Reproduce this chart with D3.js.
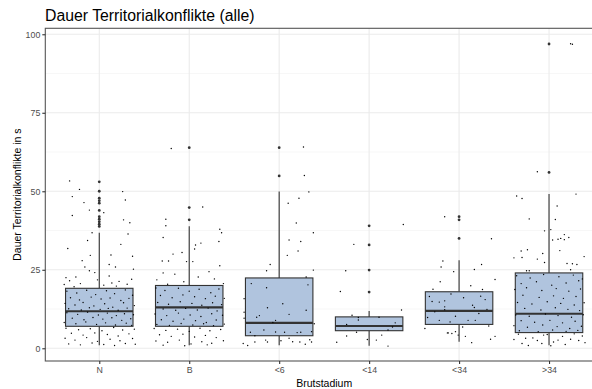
<!DOCTYPE html>
<html>
<head>
<meta charset="utf-8">
<script src="https://cdn.jsdelivr.net/npm/d3@7"></script>
<style>
  body { margin: 0; background: #fff; }
  svg { display: block; font-family: "Liberation Sans", Arial, sans-serif; }
</style>
</head>
<body>
<svg id="chart" width="592" height="389"></svg>
<script>
// categories and box statistics (seconds)
var categories = ["N", "B", "<6", "<14", "<34", ">34"];
var q1 = [7.0, 7.0, 4.0, 5.6, 7.6, 5.0];
var median = [11.8, 13.0, 8.1, 7.1, 11.9, 11.0];
var q3 = [19.1, 20.0, 22.4, 10.0, 18.0, 24.0];
var whiskerLo = [1.0, 1.0, 1.0, 0.8, 2.1, 1.0];
var whiskerHi = [36.8, 38.9, 49.9, 11.9, 28.0, 49.1];
var outliers = [
  [53, 50, 47.8, 47, 46.2, 43.9, 41.9, 41.1, 40.3, 39.5, 38.8],
  [63.9, 44.8, 40.9],
  [63.9, 54.9],
  [39, 32.9, 24.9, 17.9],
  [41.9, 40.9, 35],
  [96.9, 56]
];
var yTicks = [0, 25, 50, 75, 100];
var yMinor = [12.5, 37.5, 62.5, 87.5];

// jittered observations: [offset in category widths, value]
var ptsN = [[-.33,53.3],[-.30,48.3],[-.17,46.4],[-.11,44],[-.30,42.3],[.26,49.9],[.29,47.2],[.27,40.9],[.34,40],[.32,36.4],
  [-.08,36.8],[-.13,34.3],[-.10,29.6],[.37,29.3],[.13,29.7],[.11,26.7],[.18,25.9],[-.16,25.9],[-.11,24.7],[.38,25.2],
  [-.37,22.5],[-.26,22.7],[-.05,24.1],[.11,23],[.14,20.8],[-.39,20.3],[-.33,21.5],[-.21,20.6],[-.02,21.8],[.05,20.1],
  [.22,21.3],[.31,20.4],[.36,22],[-.28,19.6],[.19,19.8],[-.36,18.2],[-.25,17.6],[-.14,18.5],[-.04,17.1],[.08,18.3],
  [.17,17.4],[.29,18.6],[.37,16.9],[-.32,16.1],[-.22,15.4],[-.09,16.3],[.02,15.7],[.12,16.0],[.24,15.2],[.33,15.9],
  [-.38,14.3],[-.27,13.8],[-.18,14.6],[-.06,13.5],[.06,14.2],[.15,13.1],[.27,14.5],[.39,13.6],[-.34,12.6],[-.20,12.2],
  [-.11,12.9],[.01,12.4],[.10,12.7],[.21,12.1],[.31,12.8],[-.36,11.3],[-.24,10.8],[-.13,11.5],[-.01,10.6],[.09,11.2],
  [.19,10.4],[.28,11],[.38,10.7],[-.30,9.6],[-.17,9.1],[-.07,9.8],[.04,9.3],[.14,9.7],[.25,8.9],[.35,9.4],
  [-.39,8.2],[-.26,7.8],[-.15,8.4],[-.03,7.6],[.07,8.1],[.18,7.4],[.30,8],[.36,7.3],[-.37,6.4],[-.23,5.9],
  [-.10,6.2],[.03,5.6],[.16,6.6],[.26,5.8],[.39,6.1],[-.31,4.8],[-.18,4.2],[-.05,4.9],[.09,4.4],[.21,3.9],
  [.33,4.6],[-.38,3.2],[-.27,2.6],[-.14,3.4],[-.02,2.2],[.12,2.9],[.23,2.4],[.37,3.1],[-.34,1.4],[-.21,1.1],
  [-.08,1.7],[.05,1.2],[.17,0.9],[.29,1.5],[.40,1.3],[-.22,50.6],[.05,43.2],[-.35,31.8],[.24,33.1],[-.19,27.9]];
var ptsB = [[-.20,63.6],[.15,45],[-.26,41.1],[-.26,39],[-.29,35.3],[.34,37.9],[.36,36.8],[.07,32.9],[.06,31.6],[.13,33.5],
  [.33,34],[-.18,30],[-.08,30.5],[-.30,27.8],[-.23,27.8],[-.03,27.6],[.04,27.6],[.34,26.3],[-.29,24],[-.16,23.6],
  [.22,24.4],[.10,22.7],[-.36,21.8],[.28,22.1],[-.06,21.2],[.38,20.6],[-.24,20.4],[-.37,19.2],[-.27,18.4],[-.12,19.1],
  [.00,18.2],[.11,18.8],[.24,17.7],[.33,18.9],[-.32,16.8],[-.19,16.1],[-.07,17],[.06,16.4],[.18,15.8],[.29,16.6],
  [.39,15.9],[-.35,14.6],[-.23,14],[-.10,14.8],[.03,14.3],[.14,13.7],[.26,14.5],[.36,13.9],[-.29,12.5],[-.15,12.1],
  [-.04,12.7],[.09,12.2],[.21,12.8],[.31,11.9],[-.38,10.9],[-.25,10.4],[-.12,11.2],[.01,10.6],[.13,10.1],[.25,11],
  [.37,10.5],[-.31,9.1],[-.18,8.6],[-.06,9.3],[.07,8.8],[.19,8.2],[.30,9],[-.36,7.6],[-.22,7.3],[-.09,7.9],
  [.04,7.4],[.16,7.8],[.27,7.2],[.39,7.7],[-.39,6.3],[-.26,5.7],[-.13,6.1],[.00,5.4],[.12,6.4],[.23,5.6],
  [.35,6],[-.33,4.3],[-.20,3.8],[-.07,4.5],[.06,3.6],[.18,4.1],[.30,3.4],[-.37,2.3],[-.24,1.9],[-.11,2.6],
  [.02,1.4],[.14,2.1],[.25,1.6],[.38,2.4],[-.29,1],[-.05,0.8],[.20,1.1]];
var pts6 = [[.27,64.1],[.28,55],[.33,49.8],[.22,47.8],[.10,46.2],[.19,39.9],[.38,36.8],[.11,34.5],[.24,34],[.21,31],
  [.09,29.6],[-.10,26.7],[-.14,24.7],[.38,24.9],[.30,22.7],[-.31,20.6],[.32,20.2],[-.14,19.3],[-.39,15.8],[.04,14.2],
  [-.13,12.9],[.30,12.1],[.11,10.8],[-.22,10.4],[-.25,9.9],[-.04,8.9],[-.07,8.2],[.39,7.8],[-.17,5.8],[-.32,5.1],
  [-.04,5.2],[.06,5.1],[.20,5],[.24,5.1],[.36,5.3],[-.27,4],[-.15,2.6],[.11,3.2],[.34,2.7],[-.40,1.5],
  [-.35,0.9],[-.27,2],[-.13,2],[.02,2.4],[.15,2.1],[.23,2],[.29,1.3],[.36,2],[-.39,11.5],[-.39,9.6]];
var pts14 = [[.38,39.4],[-.17,33.1],[-.26,24.7],[-.32,18.1],[.36,12.2],[-.19,10.5],[-.12,9.8],[.11,9.9],[-.25,7.6],[-.12,9.0],
  [.29,8.1],[.26,6.8],[-.14,5.1],[.21,5.8],[-.25,3.9],[.14,4.2],[-.36,1.9],[-.02,2.8],[.08,2.6],[.21,0.7]];
var pts34 = [[-.16,41.9],[.36,34.9],[-.18,27.8],[-.20,25.9],[-.06,24.4],[.25,26.7],[.17,25.1],[.40,21.9],[.13,19.9],[.26,18.7],
  [.24,16.6],[.29,15.5],[.15,13.7],[.17,13],[.22,11.1],[.18,8.9],[-.04,10.2],[.10,8.9],[-.21,21.2],[-.29,18.8],
  [-.30,14.9],[-.22,14.7],[-.16,15.1],[-.35,9.8],[-.38,6.3],[-.22,8.9],[-.13,4.9],[-.12,4.9],[-.08,4.7],[-.04,5.3],
  [-.01,4.2],[.07,3.8],[.14,1.8],[.35,2.9],[.40,3.8],[.04,6.8],[-.16,13.2],[-.16,12.3],[-.10,8.4],[.31,12.4],
  [-.27,11.6],[.05,16.1],[-.09,17.3],[.33,7.1],[-.33,16.5]];
var ptsG34 = [[.24,97],[.26,96.8],[-.13,56.2],[-.36,48.5],[-.30,47.7],[.30,49.1],[.09,45.3],[-.22,41.2],[.07,41],[.02,37.8],
  [-.05,37.4],[.04,34.5],[.10,34.7],[.13,35],[.17,34.6],[.22,35.3],[.17,36.2],[.12,31.1],[-.24,31.4],[-.31,31],
  [-.39,28.8],[-.30,28.9],[-.13,28.4],[-.07,30.2],[-.05,27.3],[.20,27],[.26,26.9],[.31,26.7],[.39,29.2],[-.25,24.7],
  [-.22,24.7],[.24,25],[-.36,23.1],[-.21,22.4],[-.06,23.5],[.11,22.8],[.27,23.3],[.37,22.1],[-.31,20.6],[-.14,21.2],
  [.03,20.1],[.19,20.8],[.33,21.5],[-.38,18.7],[-.25,19.3],[-.08,18.4],[.08,19],[.22,18.2],[.35,18.9],[-.29,16.9],
  [-.11,16.2],[.05,16.7],[.16,15.9],[.30,16.5],[-.35,14.6],[-.19,14.1],[-.02,14.8],[.13,14.3],[.28,13.8],[.39,14.5],
  [-.27,12.7],[-.09,12.2],[.07,12.9],[.21,12.4],[.34,12],[-.37,10.6],[-.22,10.2],[-.04,10.9],[.10,10.4],[.25,9.9],
  [.38,10.7],[-.31,8.8],[-.16,8.3],[.01,8.9],[.15,8.1],[.29,8.6],[-.39,7.2],[-.24,6.7],[-.07,7.4],[.09,6.9],
  [.23,6.3],[.36,7],[-.33,5.6],[-.12,5.3],[.04,5.8],[.19,5.4],[.32,5.7],[-.39,2.8],[-.34,4.5],[-.30,1.5],
  [-.26,3.2],[-.23,0.9],[-.18,3.3],[-.13,2.5],[-.08,1.5],[-.06,4.2],[-.02,4.4],[.02,0.8],[.05,2],[.10,2.6],
  [.15,3.8],[.18,1.2],[.24,2.9],[.28,4.6],[.33,2.5],[.37,3.9],[.40,1.8]];
var points = [ptsN, ptsB, pts6, pts14, pts34, ptsG34];

var panel = {left: 45.3, right: 603, top: 28.3, bottom: 361};

var svg = d3.select("#chart");

var x = d3.scalePoint()
  .domain(categories)
  .range([panel.left, panel.right])
  .padding(0.6);
var step = x.step();

var y = d3.scaleLinear()
  .domain([-4.05, 101.9])
  .range([panel.bottom, panel.top]);

// grid
var grid = svg.append("g");
grid.selectAll("line.minor").data(yMinor).enter().append("line")
  .attr("x1", panel.left).attr("x2", panel.right)
  .attr("y1", d => y(d)).attr("y2", d => y(d))
  .attr("stroke", "#f0f0f0").attr("stroke-width", 0.55);
grid.selectAll("line.major").data(yTicks).enter().append("line")
  .attr("x1", panel.left).attr("x2", panel.right)
  .attr("y1", d => y(d)).attr("y2", d => y(d))
  .attr("stroke", "#ebebeb").attr("stroke-width", 1.1);
grid.selectAll("line.vert").data(categories).enter().append("line")
  .attr("x1", d => x(d)).attr("x2", d => x(d))
  .attr("y1", panel.top).attr("y2", panel.bottom)
  .attr("stroke", "#ebebeb").attr("stroke-width", 1.1);

// boxes
var stats = categories.map(function(c, i){
  return {cat: c, q1: q1[i], med: median[i], q3: q3[i], lo: whiskerLo[i], hi: whiskerHi[i], out: outliers[i]};
});
var halfW = step * 0.375;

var boxes = svg.selectAll("g.box").data(stats).enter().append("g").classed("box", true);

boxes.append("line")
  .attr("x1", d => x(d.cat)).attr("x2", d => x(d.cat))
  .attr("y1", d => y(d.q3)).attr("y2", d => y(d.hi))
  .attr("stroke", "#333").attr("stroke-width", 1.1);
boxes.append("line")
  .attr("x1", d => x(d.cat)).attr("x2", d => x(d.cat))
  .attr("y1", d => y(d.q1)).attr("y2", d => y(d.lo))
  .attr("stroke", "#333").attr("stroke-width", 1.1);
boxes.append("rect")
  .attr("x", d => x(d.cat) - halfW)
  .attr("y", d => y(d.q3))
  .attr("width", halfW * 2)
  .attr("height", d => y(d.q1) - y(d.q3))
  .attr("fill", "#b0c4de")
  .attr("stroke", "#333").attr("stroke-width", 1.1);
boxes.append("line")
  .attr("x1", d => x(d.cat) - halfW).attr("x2", d => x(d.cat) + halfW)
  .attr("y1", d => y(d.med)).attr("y2", d => y(d.med))
  .attr("stroke", "#333").attr("stroke-width", 2.2);
boxes.selectAll("circle.out").data(d => d.out.map(v => ({cat: d.cat, v: v}))).enter()
  .append("circle")
  .attr("cx", d => x(d.cat)).attr("cy", d => y(d.v))
  .attr("r", 1.4).attr("fill", "#333");

// jittered points
var jit = svg.append("g");
categories.forEach(function(c, i){
  jit.selectAll(null).data(points[i]).enter().append("circle")
    .attr("cx", d => x(c) + d[0] * step)
    .attr("cy", d => y(d[1]))
    .attr("r", 0.7)
    .attr("fill", "#000");
});

// panel border
svg.append("rect")
  .attr("x", panel.left).attr("y", panel.top)
  .attr("width", panel.right - panel.left).attr("height", panel.bottom - panel.top)
  .attr("fill", "none").attr("stroke", "#555").attr("stroke-width", 1.1);

// axes
var yAxis = svg.append("g")
  .attr("transform", "translate(" + panel.left + ",0)")
  .call(d3.axisLeft(y).tickValues(yTicks).tickSize(3).tickPadding(2));
var xAxis = svg.append("g")
  .attr("transform", "translate(0," + panel.bottom + ")")
  .call(d3.axisBottom(x).tickSize(3).tickPadding(3));
[yAxis, xAxis].forEach(function(a){
  a.select(".domain").remove();
  a.selectAll(".tick line").attr("stroke", "#333").attr("stroke-width", 1.1);
  a.selectAll(".tick text").attr("fill", "#4d4d4d").style("font-size", "8.8px")
    .style("font-family", "'Liberation Sans', Arial, sans-serif");
});

// titles
svg.append("text")
  .attr("x", 45).attr("y", 20.7)
  .style("font-size", "15.8px").attr("fill", "#000")
  .text("Dauer Territorialkonflikte (alle)");
svg.append("text")
  .attr("x", (panel.left + panel.right) / 2).attr("y", 387)
  .attr("text-anchor", "middle")
  .style("font-size", "10.5px").attr("fill", "#000")
  .text("Brutstadium");
svg.append("text")
  .attr("transform", "translate(20.7," + ((panel.top + panel.bottom) / 2) + ") rotate(-90)")
  .attr("text-anchor", "middle")
  .style("font-size", "10.5px").attr("fill", "#000")
  .text("Dauer Territorialkonflikte in s");
</script>
</body>
</html>
